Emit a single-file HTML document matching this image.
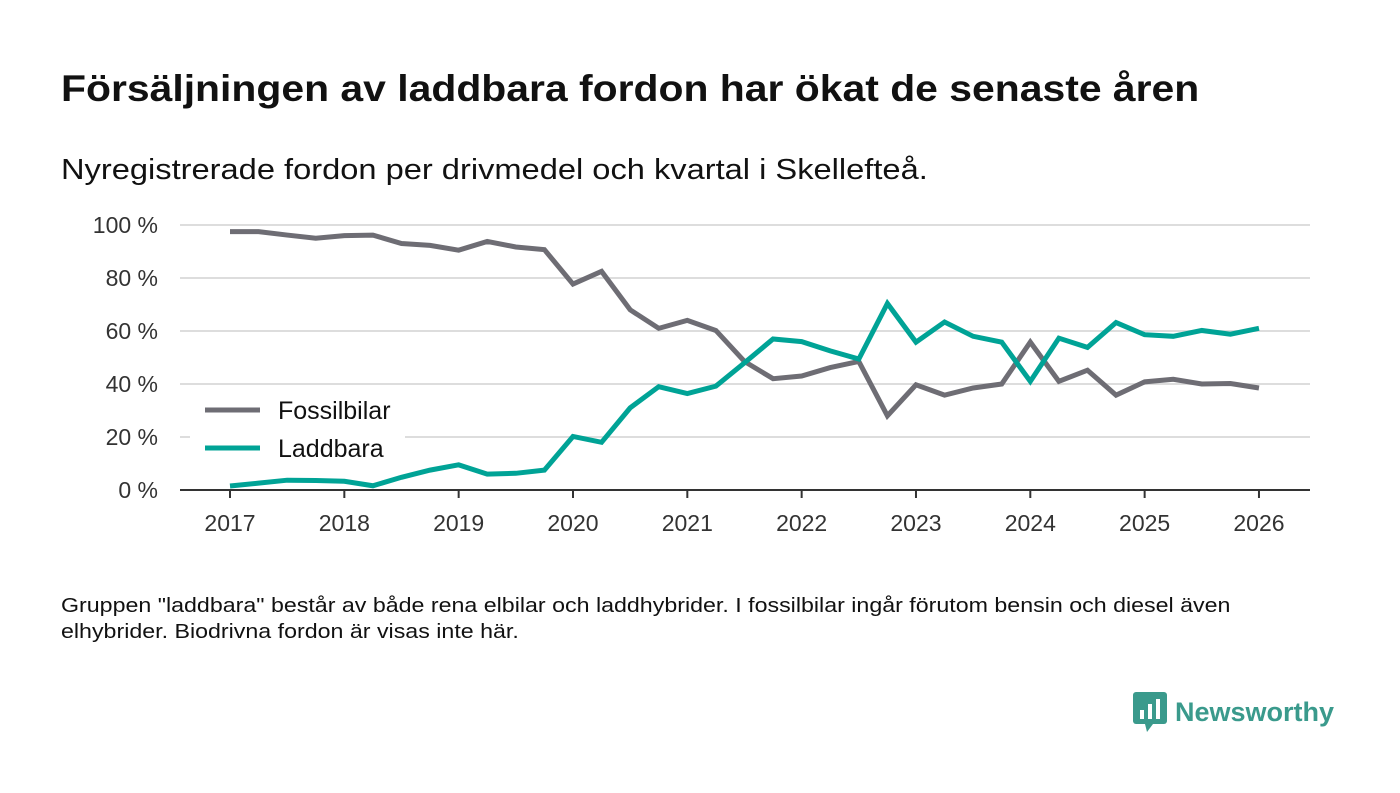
<!DOCTYPE html>
<html><head><meta charset="utf-8"><style>
body{margin:0;width:1400px;height:793px;background:#fff;font-family:"Liberation Sans",sans-serif;overflow:hidden;position:relative}
.t{position:absolute;left:61px;top:68px;font-size:37px;font-weight:bold;color:#111;transform-origin:0 0;transform:scaleX(1.105);white-space:nowrap}
.s{position:absolute;left:61px;top:154px;font-size:29px;color:#111;transform-origin:0 0;transform:scaleX(1.125);white-space:nowrap}
.f{position:absolute;left:61px;top:593px;font-size:20px;line-height:26px;color:#111;transform-origin:0 0;transform:scaleX(1.16);white-space:nowrap}
.logo{position:absolute;left:1133px;top:692px;display:flex;align-items:center;gap:8px;font-size:27px;font-weight:bold;color:#3a9a8c}
</style></head><body>
<div class="t">Försäljningen av laddbara fordon har ökat de senaste åren</div>
<div class="s">Nyregistrerade fordon per drivmedel och kvartal i Skellefteå.</div>
<svg id="c" width="1400" height="793" style="position:absolute;left:0;top:0"></svg>
<div class="f">Gruppen "laddbara" består av både rena elbilar och laddhybrider. I fossilbilar ingår förutom bensin och diesel även<br>elhybrider. Biodrivna fordon är visas inte här.</div>
<div class="logo"><svg width="34" height="40"><rect x="0" y="0" width="34" height="32" rx="3" fill="#3a9a8c"/><polygon points="12,32 20,32 14,40" fill="#3a9a8c"/><rect x="7" y="18" width="4" height="9" fill="#fff"/><rect x="15" y="12" width="4" height="15" fill="#fff"/><rect x="23" y="7" width="4" height="20" fill="#fff"/></svg>Newsworthy</div>
<script>
const years=[2017,2018,2019,2020,2021,2022,2023,2024,2025,2026];
const yTicks=[0,20,40,60,80,100];
const fossil=[97.5,97.5,96.2,95,96,96.2,93,92.3,90.5,93.8,91.7,90.7,77.7,82.5,68,61,64,60.2,48.5,42,43,46.2,48.5,28,39.7,35.8,38.5,40,55.8,41,45.2,35.8,40.8,41.8,40,40.2,38.5];
const laddbara=[1.5,2.6,3.7,3.6,3.3,1.6,4.8,7.5,9.5,6,6.3,7.5,20.2,18,31,39,36.4,39.2,48,57,56,52.5,49.4,70.4,55.8,63.4,58,55.8,41,57.3,53.8,63.2,58.6,58,60.2,58.8,61];
const svg=document.getElementById('c');const NS='http://www.w3.org/2000/svg';
const X=t=>230+(t-2017)*114.33;const Y=v=>490-v*2.65;
function mk(tag,at,p){const e=document.createElementNS(NS,tag);for(const k in at)e.setAttribute(k,at[k]);(p||svg).appendChild(e);return e;}
yTicks.forEach(v=>{
 if(v>0){const g=mk('line',{x1:180,x2:1310,y1:Y(v),y2:Y(v),stroke:'#ddd','stroke-width':2});
 
 }
 const t=mk('text',{x:158,y:Y(v)+8,'text-anchor':'end','font-size':23,fill:'#333','font-family':'Liberation Sans'});t.textContent=v+' %';
 
 
});
const ax=mk('line',{x1:180,x2:1310,y1:490,y2:490,stroke:'#333','stroke-width':2});


years.forEach(y=>{
 mk('line',{x1:X(y),x2:X(y),y1:490,y2:498,stroke:'#333','stroke-width':2});
 const t=mk('text',{x:X(y),y:531,'text-anchor':'middle','font-size':23,fill:'#333','font-family':'Liberation Sans'});t.textContent=y;
 
 
});
function line(d,c,n){const p=mk('polyline',{points:d.map((v,i)=>X(2017+i/4)+','+Y(v)).join(' '),fill:'none',stroke:c,'stroke-width':5,'stroke-linejoin':'miter'});
 
 }
mk('rect',{x:190,y:392,width:215,height:75,fill:'#fff'});
line(fossil,'#6e6d74','fossilbilar-line');
line(laddbara,'#00a396','laddbara-line');
[['Fossilbilar','#6e6d74',410],['Laddbara','#00a396',448]].forEach(([n,c,y])=>{
 const g=mk('g',{});
 
 
 mk('line',{x1:205,x2:260,y1:y,y2:y,stroke:c,'stroke-width':5},g);
 const t=mk('text',{x:278,y:y+9,'font-size':25,fill:'#111','font-family':'Liberation Sans'},g);t.textContent=n;
});
</script>
</body></html>
